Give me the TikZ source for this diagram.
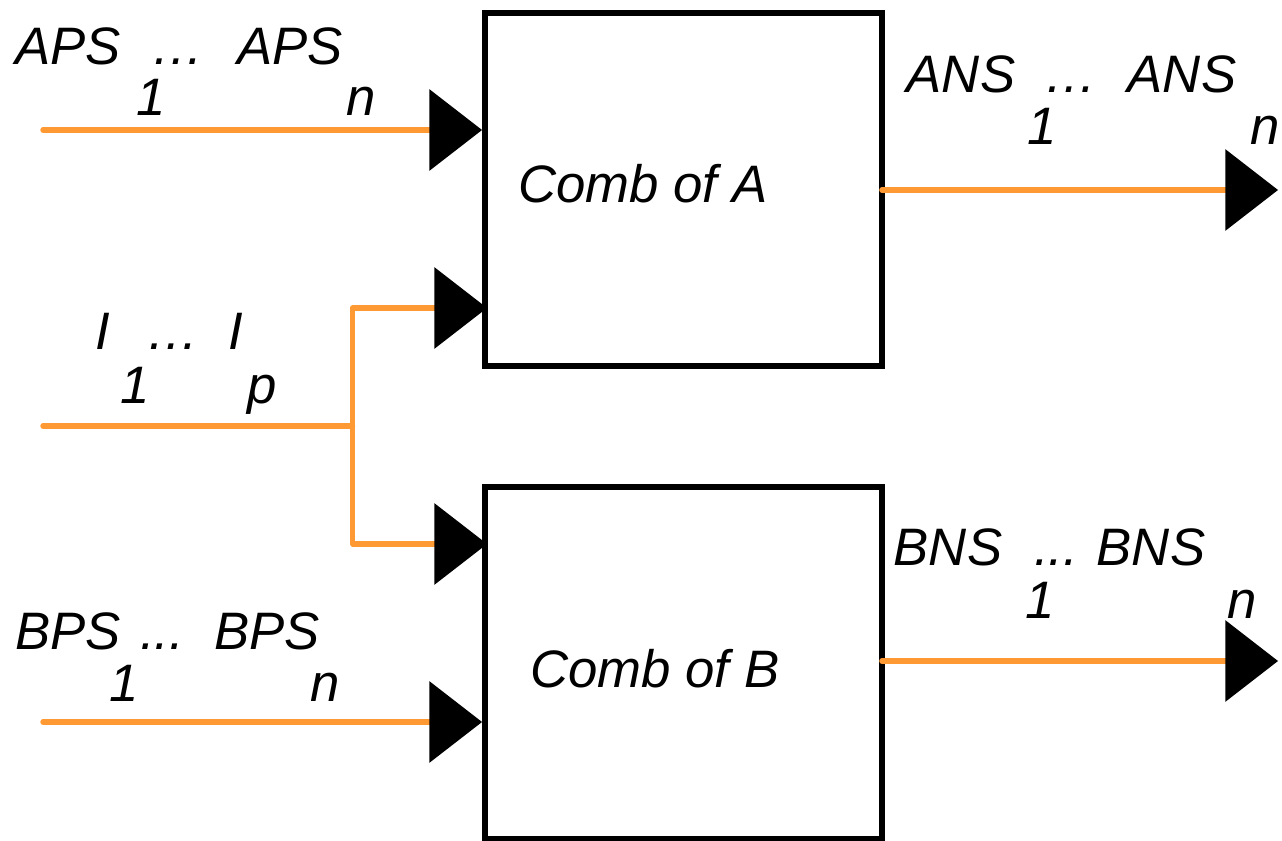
\documentclass[tikz,border=0pt]{standalone}
\usepackage{fontspec}
\setmainfont{Liberation Sans}
\usetikzlibrary{arrows.meta}
\definecolor{wireorange}{HTML}{FF9933}
\tikzset{
  block/.style={draw=black, line width=3.4pt, fill=none, inner sep=0pt, outer sep=0pt,
    minimum width=7.94cm, minimum height=7.06cm},
  wire/.style={draw=wireorange, line width=3.1pt, line cap=round, line join=round},
  bigtri/.tip={Triangle[length=30pt 0, width=46.5pt 0, line width=0pt 0, black]},
  intip/.style={-bigtri},
  lbl/.style={anchor=base, inner sep=0pt, outer sep=0pt, font=\itshape\fontsize{30}{36}\selectfont},
}
\begin{document}
\begin{tikzpicture}[x=0.02cm, y=-0.02cm]
\useasboundingbox (0,0) rectangle (1282,841);

% the two combinational blocks
\node[block] (A) at (683.5,189.5) {};
\node[block] (B) at (683.5,663) {};
\node[lbl] (combA) at (643,203) {Comb of A};
\node[lbl] (combB) at (655,687) {Comb of B};

% free ends and junctions of the signal lines
\coordinate (aps) at (43,130);
\coordinate (bps) at (43,722);
\coordinate (ip)  at (43,426);
\coordinate (br)  at (352.5,426);
\coordinate (jA)  at (352.5,308);
\coordinate (jB)  at (352.5,544);
\coordinate (ans) at (1278,190);
\coordinate (bns) at (1278,661);

% inputs
\draw[wire, intip] (aps) -- ([xshift=-0.06cm]aps -| A.west);
\draw[wire, intip] (bps) -- ([xshift=-0.06cm]bps -| B.west);
\draw[wire] (ip) -- (br);
\draw[wire, bigtri-bigtri]
  ([xshift=0.04cm]jA -| A.west) -- (jA) -- (jB) -- ([xshift=0.04cm]jB -| B.west);

% outputs
\draw[wire, intip] (A.east |- ans) -- (ans);
\draw[wire, intip] (B.east |- bns) -- (bns);

% APS labels
\node[lbl] (aps1) at (68,65) {APS};
\node[lbl] (apsd) at (178,65) {…};
\node[lbl] (apsn) at (290,65) {APS};
\node[lbl] (apsi1) at (151,116) {1};
\node[lbl] (apsin) at (361,116) {n};

% I labels
\node[lbl] (i1) at (103,350) {I};
\node[lbl] (id) at (173,350) {…};
\node[lbl] (ip2) at (236,350) {I};
\node[lbl] (ii1) at (135,403) {1};
\node[lbl] (iip) at (262,403) {p};

% BPS labels
\node[lbl] (bps1) at (68,649) {BPS};
\node[lbl] (bpsd) at (162,649) {...};
\node[lbl] (bpsn) at (267,649) {BPS};
\node[lbl] (bpsi1) at (124,701) {1};
\node[lbl] (bpsin) at (325,701) {n};

% ANS labels
\node[lbl] (ans1) at (961,93) {ANS};
\node[lbl] (ansd) at (1071,93) {…};
\node[lbl] (ansn) at (1182,93) {ANS};
\node[lbl] (ansi1) at (1042,145) {1};
\node[lbl] (ansin) at (1265,145) {n};

% BNS labels
\node[lbl] (bns1) at (948,565) {BNS};
\node[lbl] (bnsd) at (1056,565) {...};
\node[lbl] (bnsn) at (1151,565) {BNS};
\node[lbl] (bnsi1) at (1040,618) {1};
\node[lbl] (bnsin) at (1242,618) {n};
\end{tikzpicture}
\end{document}
